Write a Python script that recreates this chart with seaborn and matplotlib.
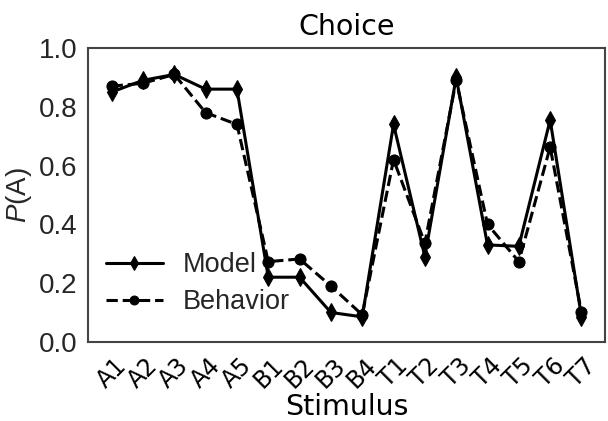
import matplotlib
matplotlib.use("Agg")
import matplotlib.pyplot as plt
import seaborn as sns
import pandas as pd

stimuli = ["A1", "A2", "A3", "A4", "A5", "B1", "B2", "B3", "B4",
           "T1", "T2", "T3", "T4", "T5", "T6", "T7"]
model = [0.85, 0.89, 0.91, 0.86, 0.86, 0.22, 0.22, 0.10, 0.085,
         0.74, 0.29, 0.90, 0.33, 0.325, 0.755, 0.086]
behavior = [0.87, 0.88, 0.91, 0.78, 0.74, 0.273, 0.282, 0.19, 0.092,
            0.62, 0.336, 0.89, 0.40, 0.273, 0.663, 0.10]

sns.set_style("white")
plt.rcParams["font.family"] = ["Liberation Sans", "DejaVu Sans"]
plt.rcParams["mathtext.fontset"] = "custom"
plt.rcParams["mathtext.it"] = "Liberation Sans:italic"
plt.rcParams["mathtext.rm"] = "Liberation Sans"

idx = list(range(len(stimuli)))
df_model = pd.DataFrame({"x": idx, "y": model})
df_beh = pd.DataFrame({"x": idx, "y": behavior})

fig = plt.figure(figsize=(6.08, 4.21), dpi=100)
ax = fig.add_axes([0.145, 0.188, 0.85, 0.698])

sns.lineplot(data=df_model, x="x", y="y", ax=ax, color="black", linewidth=2.2,
             marker="d", markersize=9, markeredgecolor="black", label="Model")
sns.lineplot(data=df_beh, x="x", y="y", ax=ax, color="black", linewidth=2.2,
             linestyle="--", marker="o", markersize=8, markeredgecolor="black",
             label="Behavior")

ax.set_ylim(0, 1.0)
ax.set_xlim(-0.75, 15.75)
ax.set_yticks([0.0, 0.2, 0.4, 0.6, 0.8, 1.0])
ax.set_yticklabels(["0.0", "0.2", "0.4", "0.6", "0.8", "1.0"], fontsize=20, color="#262626")
ax.set_xticks(idx)
ax.set_xticklabels(stimuli, rotation=45, fontsize=17, family="DejaVu Sans", color="black")
ax.tick_params(axis="x", pad=5)
ax.tick_params(axis="y", pad=4)

ax.set_xlabel("Stimulus", fontsize=20.5, family="DejaVu Sans", color="black", labelpad=0)
ax.set_ylabel("$P$(A)", fontsize=20, color="#262626", labelpad=4)
ax.set_title("Choice", fontsize=20.5, family="DejaVu Sans", color="black", pad=9)

for s in ax.spines.values():
    s.set_color("#444444")
    s.set_linewidth(1.5)

leg = ax.legend(loc="lower left", frameon=False, fontsize=19.5, bbox_to_anchor=(0.0, 0.03),
                handlelength=2.1, labelspacing=0.42, handletextpad=0.75, borderaxespad=0.25,
                markerscale=0.8)
for t in leg.get_texts():
    t.set_color("#262626")

fig.savefig("out.png", dpi=100)
